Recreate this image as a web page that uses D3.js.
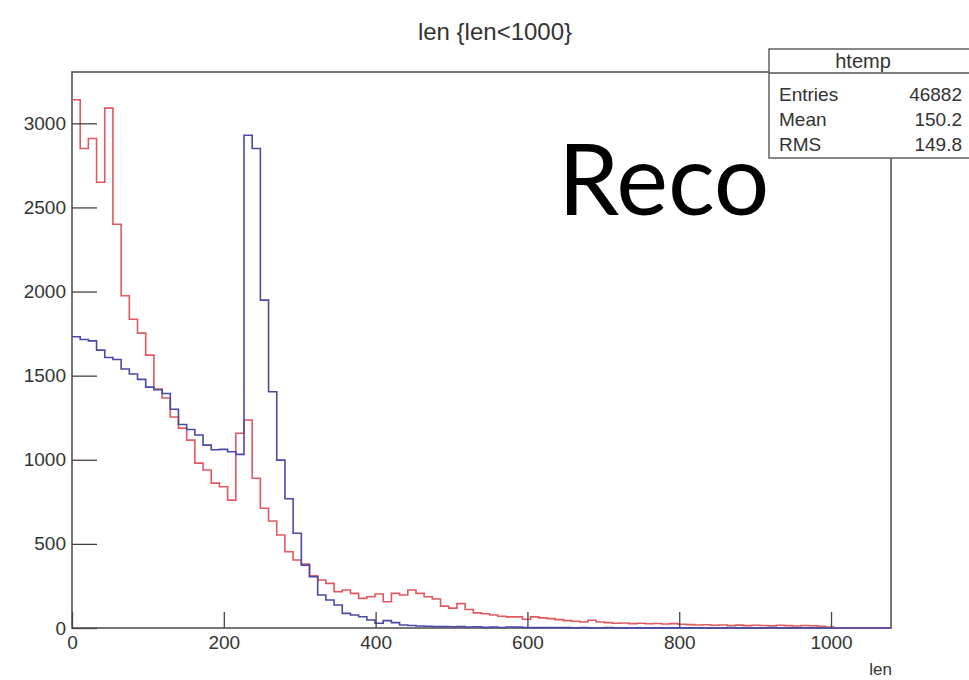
<!DOCTYPE html>
<html>
<head>
<meta charset="utf-8">
<script src="https://cdn.jsdelivr.net/npm/d3@7"></script>
<style>
  body { margin: 0; background: #fff; }
  svg { display: block; }
  text { font-family: "Liberation Sans", Arial, sans-serif; fill: #333; }
</style>
</head>
<body>
<svg id="chart" width="969" height="680"></svg>
<script>
// 100 bins over len 0..1079 (ROOT htemp style)
const lenMax = 1079;
const binCount = 100;

const redCounts = [
  3140, 2850, 2910, 2650, 3090, 2400, 1975, 1835, 1753, 1622,
  1420, 1367, 1254, 1188, 1117, 980, 939, 861, 840, 760,
  1158, 1236, 890, 712, 636, 553, 453, 404, 380, 310,
  285, 265, 216, 226, 206, 176, 186, 202, 156, 206,
  196, 226, 206, 186, 172, 130, 118, 145, 110, 90,
  85, 77, 70, 66, 66, 52, 66, 60, 56, 50,
  44, 40, 36, 46, 36, 32, 28, 30, 26, 28,
  25, 27, 24, 26, 22, 20, 18, 19, 16, 18,
  15, 17, 14, 16, 15, 13, 16, 14, 12, 15,
  13, 10, 6, 0, 0, 0, 0, 0, 0, 0,
];

const blueCounts = [
  1731, 1715, 1707, 1652, 1608, 1596, 1540, 1510, 1478, 1432,
  1416, 1394, 1300, 1210, 1180, 1147, 1087, 1060, 1062, 1048,
  1032, 2929, 2850, 1949, 1404, 998, 768, 563, 374, 305,
  196, 166, 137, 87, 77, 67, 48, 28, 44, 32,
  18, 15, 12, 10, 8, 8, 7, 8, 6, 7,
  4, 5, 3, 6, 5, 3, 2, 2, 3, 2,
  2, 1, 2, 1, 1, 2, 1, 1, 0, 1,
  1, 1, 0, 1, 1, 1, 1, 0, 1, 1,
  2, 1, 1, 1, 1, 2, 1, 1, 1, 1,
  1, 0, 0, 0, 0, 0, 0, 0, 0, 0,
];

const xMajorTicks = [0, 200, 400, 600, 800, 1000];
const xMinorTicks = d3.range(0, 1051, 50);
const yMajorTicks = [0, 500, 1000, 1500, 2000, 2500, 3000];
const yMinorTicks = d3.range(0, 3301, 100);

const titleText = 'len {len<1000}';
const xTitle = 'len';
const statsName = 'htemp';
const statsLabels = ['Entries', 'Mean', 'RMS'];
const statsValues = ['46882', '150.2', '149.8'];
const overlayText = 'Reco';

const svg = d3.select('#chart');

const frame = { left: 72, right: 891, top: 72, bottom: 628 };

const x = d3.scaleLinear().domain([0, lenMax]).range([frame.left, frame.right]);
const y = d3.scaleLinear().domain([0, 3305]).range([frame.bottom, frame.top]);

const binWidth = lenMax / binCount;

// frame
svg.append('rect')
  .attr('x', frame.left)
  .attr('y', frame.top)
  .attr('width', frame.right - frame.left)
  .attr('height', frame.bottom - frame.top)
  .attr('fill', 'none')
  .attr('stroke', '#555')
  .attr('stroke-width', 1.6);

// histogram outlines
function histPoints(counts) {
  const pts = counts.map((c, i) => [i * binWidth, c]);
  pts.push([counts.length * binWidth, counts[counts.length - 1]]);
  return pts;
}

const stepLine = d3.line()
  .x((d) => x(d[0]))
  .y((d) => y(d[1]))
  .curve(d3.curveStepAfter);

svg.append('path')
  .attr('d', stepLine(histPoints(redCounts)))
  .attr('fill', 'none')
  .attr('stroke', '#e0595e')
  .attr('stroke-width', 1.6);

svg.append('path')
  .attr('d', stepLine(histPoints(blueCounts)))
  .attr('fill', 'none')
  .attr('stroke', '#4a4aa6')
  .attr('stroke-width', 1.6);

// x axis (ticks point inward)
const xAxisG = svg.append('g').attr('transform', `translate(0,${frame.bottom})`);
xAxisG.call(d3.axisBottom(x).tickValues(xMinorTicks).tickSize(-8).tickFormat(''));
xAxisG.call(d3.axisBottom(x).tickValues(xMajorTicks).tickSize(-16).tickPadding(8)
  .tickFormat(d3.format('d')));
xAxisG.selectAll('.domain').remove();
xAxisG.selectAll('line').attr('stroke', '#444').attr('stroke-width', 1.3);
xAxisG.selectAll('text').style('font-size', '19px').attr('fill', '#333');

// y axis
const yAxisG = svg.append('g').attr('transform', `translate(${frame.left},0)`);
yAxisG.call(d3.axisLeft(y).tickValues(yMinorTicks).tickSize(-12).tickFormat(''));
yAxisG.call(d3.axisLeft(y).tickValues(yMajorTicks).tickSize(-25).tickPadding(6)
  .tickFormat(d3.format('d')));
yAxisG.selectAll('.domain').remove();
yAxisG.selectAll('line').attr('stroke', '#444').attr('stroke-width', 1.3);
yAxisG.selectAll('text').style('font-size', '19px').attr('fill', '#333');

// titles
svg.append('text')
  .attr('x', 495)
  .attr('y', 40)
  .attr('text-anchor', 'middle')
  .style('font-size', '24px')
  .text(titleText);

svg.append('text')
  .attr('x', frame.right + 1)
  .attr('y', 675)
  .attr('text-anchor', 'end')
  .style('font-size', '17px')
  .text(xTitle);

// stats box
const box = { x: 769, y: 49, w: 205, h: 109, header: 24 };
const statsG = svg.append('g');
statsG.append('rect')
  .attr('x', box.x).attr('y', box.y)
  .attr('width', box.w).attr('height', box.h)
  .attr('fill', '#fff')
  .attr('stroke', '#555')
  .attr('stroke-width', 1.4);
statsG.append('line')
  .attr('x1', box.x).attr('x2', box.x + box.w)
  .attr('y1', box.y + box.header).attr('y2', box.y + box.header)
  .attr('stroke', '#555')
  .attr('stroke-width', 1.4);
statsG.append('text')
  .attr('x', 863)
  .attr('y', 68)
  .attr('text-anchor', 'middle')
  .style('font-size', '20px')
  .text(statsName);

const rowBase = [101, 126, 151];
statsLabels.forEach((label, i) => {
  statsG.append('text')
    .attr('x', 779)
    .attr('y', rowBase[i])
    .style('font-size', '19px')
    .text(label);
  statsG.append('text')
    .attr('x', 962)
    .attr('y', rowBase[i])
    .attr('text-anchor', 'end')
    .style('font-size', '19px')
    .text(statsValues[i]);
});

// big overlay label, sized so it ends just left of the stats text
svg.append('text')
  .attr('x', 558)
  .attr('y', 215)
  .style('font-family', 'Lato, "Open Sans", sans-serif')
  .style('font-size', '98px')
  .style('fill', '#000')
  .text(overlayText);
</script>
</body>
</html>
